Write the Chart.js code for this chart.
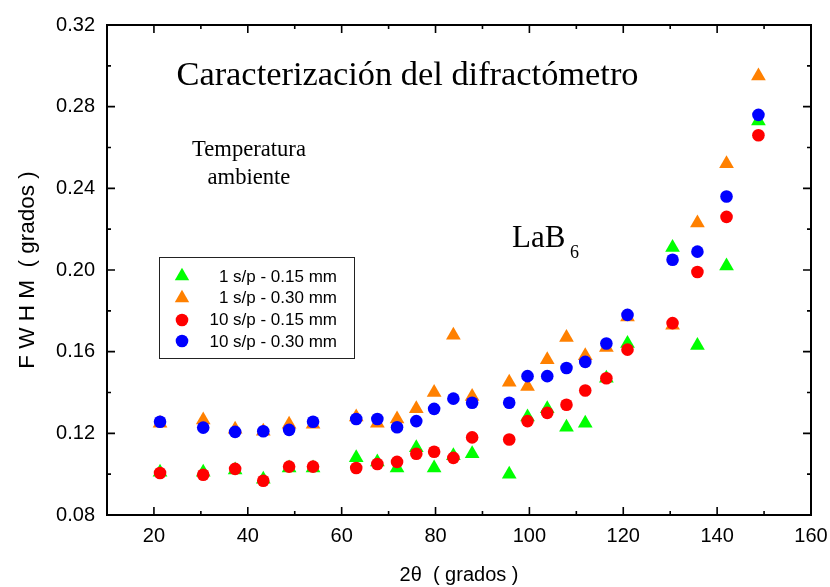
<!DOCTYPE html>
<html>
<head>
<meta charset="utf-8">
<script src="https://cdn.jsdelivr.net/npm/chart.js@4/dist/chart.umd.min.js"></script>
<style>
  html, body { margin: 0; padding: 0; background: #fff; }
  #wrap { position: relative; width: 830px; height: 587px; overflow: hidden; }
  #c { position: absolute; left: 0; top: 0; }
  .t { position: absolute; white-space: nowrap; line-height: 1; color: #000; }
  .serif { font-family: "Liberation Serif", "Times New Roman", serif; }
  .sans { font-family: "Liberation Sans", Arial, sans-serif; }
</style>
</head>
<body>
<div id="wrap">
  <canvas id="c" width="830" height="587"></canvas>
  <div class="t serif" id="title" style="font-size:34.4px; left:407.5px; top:55.5px; transform:translateX(-50%);">Caracterización del difractómetro</div>
  <div class="t serif" style="font-size:22.6px; line-height:28px; left:249px; top:135.4px; transform:translateX(-50%); text-align:center;">Temperatura<br>ambiente</div>
  <div class="t serif" style="font-size:31px; left:512px; top:221px;">LaB</div>
  <div class="t serif" style="font-size:18px; left:570px; top:243px;">6</div>
  <div id="legend" style="position:absolute; left:159px; top:257px; width:194px; height:100px; border:1px solid #222;"></div>
  <svg style="position:absolute; left:0; top:0;" width="830" height="587" id="legsvg"></svg>
</div>
<script>
// ---- data ----
const twoTheta = [21.3, 30.5, 37.3, 43.3, 48.8, 53.9, 63.1, 67.6, 71.8, 75.9, 79.7, 83.8, 87.8, 95.7, 99.6, 103.8, 107.9, 111.9, 116.4, 120.9, 130.5, 135.8, 142.0, 148.8];
const fwhm_1sp_015 = [0.101, 0.101, 0.102, 0.0975, 0.103, 0.103, 0.108, 0.106, 0.103, 0.113, 0.103, 0.109, 0.110, 0.100, 0.128, 0.132, 0.123, 0.125, 0.147, 0.164, 0.211, 0.163, 0.202, 0.273];
const fwhm_1sp_030 = [0.125, 0.1265, 0.122, 0.121, 0.1245, 0.1245, 0.128, 0.125, 0.127, 0.132, 0.140, 0.168, 0.138, 0.145, 0.143, 0.156, 0.167, 0.158, 0.162, 0.177, 0.173, 0.223, 0.252, 0.295];
const fwhm_10sp_015 = [0.1006, 0.0997, 0.1026, 0.0968, 0.1037, 0.1037, 0.103, 0.105, 0.106, 0.110, 0.111, 0.108, 0.118, 0.117, 0.126, 0.130, 0.134, 0.141, 0.147, 0.161, 0.174, 0.199, 0.226, 0.266];
const fwhm_10sp_030 = [0.1257, 0.1228, 0.1207, 0.121, 0.1217, 0.1257, 0.127, 0.127, 0.123, 0.126, 0.132, 0.137, 0.135, 0.135, 0.148, 0.148, 0.152, 0.155, 0.164, 0.178, 0.205, 0.209, 0.236, 0.276];
const seriesLabels = ["1 s/p - 0.15 mm", "1 s/p - 0.30 mm", "10 s/p - 0.15 mm", "10 s/p - 0.30 mm"];
const xMajorTicks = [20, 40, 60, 80, 100, 120, 140, 160];
const xMinorTicks = [10, 30, 50, 70, 90, 110, 130, 150];
const yMajorTicks = [0.08, 0.12, 0.16, 0.20, 0.24, 0.28, 0.32];
const yMinorTicks = [0.10, 0.14, 0.18, 0.22, 0.26, 0.30];

const colors = ['#00ff00', '#ff8000', '#ff0000', '#0000ff'];
const styles = ['triangle', 'triangle', 'circle', 'circle'];
const radii = [8.5, 8.5, 6.3, 6.3];
const allSeries = [fwhm_1sp_015, fwhm_1sp_030, fwhm_10sp_015, fwhm_10sp_030];
const drawOrder = [4, 3, 2, 1];

const datasets = allSeries.map((s, i) => ({
  label: seriesLabels[i],
  data: twoTheta.map((x, j) => ({ x: x, y: s[j] })),
  pointStyle: styles[i],
  pointRadius: radii[i],
  pointHoverRadius: radii[i],
  backgroundColor: colors[i],
  borderColor: colors[i],
  borderWidth: 0,
  showLine: false,
  order: drawOrder[i]
}));

const frameTicks = {
  id: 'frameTicks',
  afterDraw(chart) {
    const { ctx, chartArea: a, scales: { x, y } } = chart;
    ctx.save();
    ctx.strokeStyle = '#000';
    ctx.lineWidth = 1.6;
    ctx.beginPath();
    const tx = (v, L) => { const p = x.getPixelForValue(v); ctx.moveTo(p, a.bottom); ctx.lineTo(p, a.bottom - L); ctx.moveTo(p, a.top); ctx.lineTo(p, a.top + L); };
    const ty = (v, L) => { const p = y.getPixelForValue(v); ctx.moveTo(a.left, p); ctx.lineTo(a.left + L, p); ctx.moveTo(a.right, p); ctx.lineTo(a.right - L, p); };
    xMajorTicks.forEach(v => tx(v, 8));
    xMinorTicks.forEach(v => tx(v, 4));
    yMajorTicks.forEach(v => ty(v, 8));
    yMinorTicks.forEach(v => ty(v, 4));
    ctx.stroke();
    ctx.lineWidth = 2;
    ctx.strokeRect(a.left, a.top, a.right - a.left, a.bottom - a.top);
    ctx.restore();
  }
};

const tickFont = { family: "'Liberation Sans', Arial, sans-serif", size: 20 };
const yTitleFont = { family: "'Liberation Sans', Arial, sans-serif", size: 22.5 };

new Chart(document.getElementById('c'), {
  type: 'scatter',
  data: { datasets },
  options: {
    responsive: false,
    animation: false,
    layout: { padding: { left: 0, right: 19, top: 25, bottom: 0 } },
    plugins: { legend: { display: false }, tooltip: { enabled: false } },
    scales: {
      x: {
        type: 'linear', min: 10, max: 160,
        afterBuildTicks: s => { s.ticks = xMajorTicks.map(v => ({ value: v })); },
        afterFit: s => { s.height = 72; s.paddingLeft = 0; s.paddingRight = 0; },
        grid: { display: false, drawTicks: false },
        border: { display: false },
        ticks: { font: tickFont, color: '#000', padding: 9, maxRotation: 0, autoSkip: false },
        title: { display: true, text: '2θ  ( grados )', font: tickFont, color: '#000', padding: { top: 0, bottom: 0 } }
      },
      y: {
        type: 'linear', min: 0.08, max: 0.32,
        afterBuildTicks: s => { s.ticks = yMajorTicks.map(v => ({ value: v })); },
        afterFit: s => { s.width = 107; s.paddingTop = 0; s.paddingBottom = 0; },
        grid: { display: false, drawTicks: false },
        border: { display: false },
        ticks: { font: tickFont, color: '#000', padding: 12, autoSkip: false, callback: v => Number(v).toFixed(2) },
        title: { display: true, text: 'F W H M  ( grados )', font: yTitleFont, color: '#000', padding: { top: 14, bottom: 0 } }
      }
    }
  },
  plugins: [frameTicks]
});

// ---- legend (HTML/SVG) ----
(function () {
  const svg = document.getElementById('legsvg');
  const NS = 'http://www.w3.org/2000/svg';
  const cx = 182, rows = [276, 298, 320, 341], base = [282, 303.7, 325.3, 347];
  seriesLabels.forEach((lab, i) => {
    const cy = rows[i];
    let el;
    if (styles[i] === 'triangle') {
      const r = 8.3;
      el = document.createElementNS(NS, 'polygon');
      const pts = [0, 120, 240].map(d => { const a = d * Math.PI / 180; return (cx + Math.sin(a) * r).toFixed(2) + ',' + (cy - Math.cos(a) * r).toFixed(2); });
      el.setAttribute('points', pts.join(' '));
    } else {
      el = document.createElementNS(NS, 'circle');
      el.setAttribute('cx', cx); el.setAttribute('cy', cy); el.setAttribute('r', 6.3);
    }
    el.setAttribute('fill', colors[i]);
    svg.appendChild(el);
    const d = document.createElement('div');
    d.className = 't sans';
    d.style.fontSize = '17px';
    d.style.right = (830 - 337) + 'px';
    d.style.top = (base[i] - 0.8465 * 17) + 'px';
    d.textContent = lab;
    document.getElementById('wrap').appendChild(d);
  });
})();
</script>
</body>
</html>
